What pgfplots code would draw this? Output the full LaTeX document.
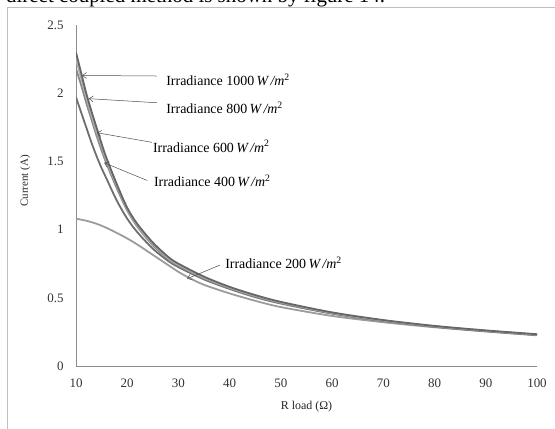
\documentclass[border=0pt]{standalone}
\usepackage{fontspec}
\setmainfont{Liberation Serif}
\usepackage{pgfplots}
\pgfplotsset{compat=1.18}
\usetikzlibrary{arrows.meta}
\definecolor{axgray}{HTML}{8C8C8C}
\definecolor{cA}{HTML}{666666}
\definecolor{cB}{HTML}{AEAEAE}
\definecolor{cC}{HTML}{888888}
\definecolor{cD}{HTML}{6E6E6E}
\definecolor{cE}{HTML}{9C9C9C}
\pgfplotstableread{
R I
10 2.30
11 2.15
12 2.00
13 1.87
14 1.75
15 1.63
16 1.52
18 1.33
20 1.16
22 1.04
25 0.905
28 0.80
30 0.75
35 0.655
40 0.58
45 0.52
50 0.47
60 0.393
70 0.337
80 0.294
90 0.261
100 0.233
}\tA
\pgfplotstableread{
R I
10 2.25
11 2.11
12 1.97
13 1.84
14 1.72
15 1.61
16 1.50
18 1.32
20 1.15
22 1.03
25 0.895
28 0.79
30 0.742
35 0.648
40 0.575
45 0.515
50 0.466
60 0.39
70 0.334
80 0.292
90 0.259
100 0.231
}\tB
\pgfplotstableread{
R I
10 2.18
11 2.06
12 1.93
13 1.81
14 1.69
15 1.58
16 1.48
18 1.30
20 1.14
22 1.02
25 0.885
28 0.782
30 0.735
35 0.642
40 0.57
45 0.51
50 0.462
60 0.387
70 0.332
80 0.29
90 0.257
100 0.229
}\tC
\pgfplotstableread{
R I
10 1.97
11 1.86
12 1.75
13 1.64
14 1.54
15 1.45
16 1.37
18 1.21
20 1.08
22 0.98
25 0.86
28 0.77
30 0.725
35 0.635
40 0.565
45 0.505
50 0.458
60 0.384
70 0.33
80 0.288
90 0.255
100 0.227
}\tD
\pgfplotstableread{
R I
10 1.08
12 1.065
14 1.043
16 1.012
18 0.975
20 0.935
22 0.89
25 0.815
28 0.74
30 0.69
32 0.648
35 0.595
40 0.532
45 0.478
50 0.432
60 0.367
70 0.321
80 0.284
90 0.253
100 0.225
}\tE
\begin{document}
\begin{tikzpicture}[x=1bp,y=1bp]
\useasboundingbox (0,0) rectangle (555,428);
\fill[white] (0,0) rectangle (555,428);
\node[anchor=base west, font=\fontsize{21}{24}\selectfont, inner sep=0] at (6,425) {direct coupled method is shown by figure 14.};
\draw[black!25, line width=0.7pt] (7.5,-5) -- (7.5,420.5) -- (560,420.5);
\begin{axis}[
  at={(76bp,62bp)}, anchor=south west,
  width=461bp, height=341bp, scale only axis,
  xmin=10, xmax=100, ymin=0, ymax=2.5,
  axis lines*=left,
  axis line style={draw=axgray, line width=0.8pt},
  xtick={10,20,...,100},
  ytick={0,0.5,1,1.5,2,2.5},
  yticklabels={0,0.5,1,1.5,2,2.5},
  major tick length=0,
  /pgf/number format/assume math mode=true,
  tick label style={font=\fontsize{13}{15}\selectfont, text=black!80},
  xticklabel style={yshift=-9bp},
  yticklabel style={xshift=-9bp},
  xlabel={R load (Ω)},
  ylabel={Current (A)},
  xlabel style={font=\fontsize{12}{14}\selectfont, text=black!85, at={(axis description cs:0.5,-0.12)}, anchor=center},
  ylabel style={font=\fontsize{11}{13}\selectfont, text=black!85, at={(axis description cs:-0.11,0.543)}, anchor=center},
  every axis plot/.append style={smooth, line width=1.8pt, no marks},
]
\addplot[cE] table[x=R,y=I] {\tE};
\addplot[cD] table[x=R,y=I] {\tD};
\addplot[cC] table[x=R,y=I] {\tC};
\addplot[cB] table[x=R,y=I] {\tB};
\addplot[cA] table[x=R,y=I] {\tA};

\tikzset{ann/.style={-{Straight Barb[length=4bp,width=6bp]}, black!70, line width=0.5pt},
         lab/.style={anchor=west, inner sep=0, font=\fontsize{14}{16}\selectfont}}
\draw[ann] (axis cs:25.8,2.126) -- (axis cs:11.2,2.13);
\node[lab] at (axis cs:27.6,2.10) {Irradiance 1000\,\textit{W\,/m}\textsuperscript{2}};
\draw[ann] (axis cs:25.8,1.93) -- (axis cs:12.5,1.96);
\node[lab] at (axis cs:27.6,1.89) {Irradiance 800\,\textit{W\,/m}\textsuperscript{2}};
\draw[ann] (axis cs:24.8,1.64) -- (axis cs:14.1,1.71);
\node[lab] at (axis cs:25.0,1.61) {Irradiance 600\,\textit{W\,/m}\textsuperscript{2}};
\draw[ann] (axis cs:23.9,1.36) -- (axis cs:15.5,1.49);
\node[lab] at (axis cs:25.2,1.356) {Irradiance 400\,\textit{W\,/m}\textsuperscript{2}};
\draw[ann] (axis cs:38.1,0.74) -- (axis cs:31.7,0.64);
\node[lab] at (axis cs:39.1,0.755) {Irradiance 200\,\textit{W\,/m}\textsuperscript{2}};
\end{axis}
\end{tikzpicture}
\end{document}
